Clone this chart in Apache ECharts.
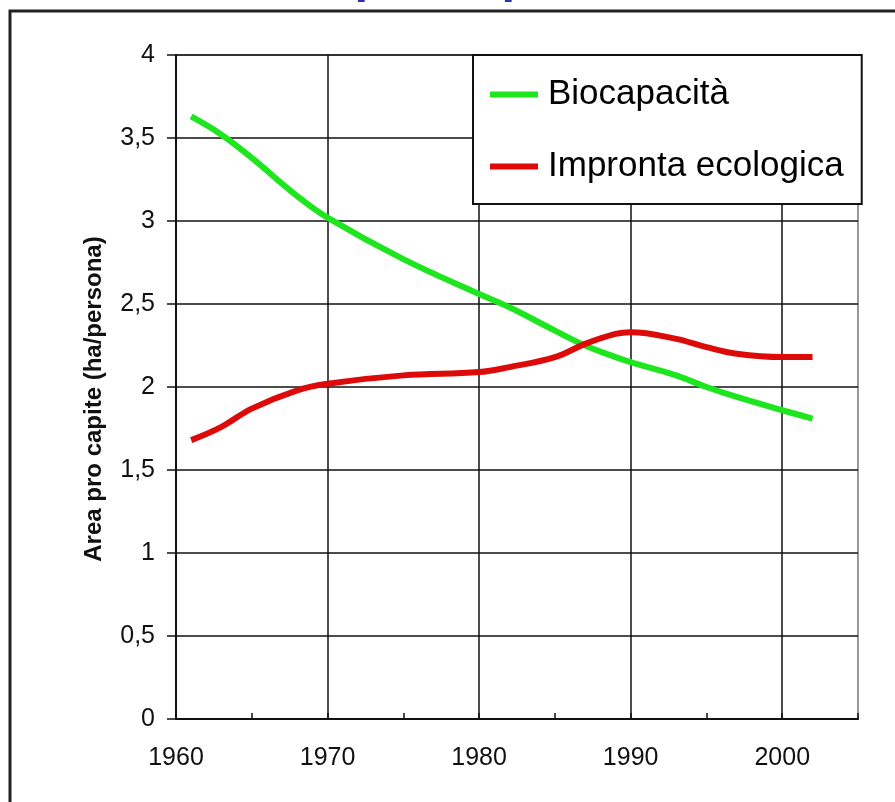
<html>
<head>
	<meta charset="utf-8">
	<title>Biocapacità e impronta ecologica</title>
	<style>
		html, body { margin: 0; padding: 0; background: #fff; }
	</style>
</head>
<body>
<div id="container" style="width:895px;height:802px"></div>
<script type="text/javascript" src="https://cdn.jsdelivr.net/npm/echarts@6/dist/echarts.min.js"></script>
<script type="text/javascript">
    // anni
    var years = [1961, 1963, 1965, 1968, 1970, 1975, 1980, 1982, 1985, 1987, 1989, 1990, 1993, 1995, 1997, 2000, 2002];
    // ha/persona
    var biocapacita = [3.63, 3.52, 3.38, 3.15, 3.02, 2.77, 2.56, 2.48, 2.34, 2.25, 2.18, 2.15, 2.07, 2.00, 1.94, 1.86, 1.81];
    var impronta = [1.68, 1.76, 1.87, 1.98, 2.02, 2.07, 2.09, 2.12, 2.18, 2.26, 2.32, 2.33, 2.29, 2.24, 2.20, 2.18, 2.18];
    var seriesNames = ['Biocapacità', 'Impronta ecologica'];
    var yTitle = 'Area pro capite (ha/persona)';
    var pageTitle = 'Area pro capite';

    function pairs(vals) {
        var out = [];
        for (var i = 0; i < years.length; i++) {
            out.push([years[i], vals[i]]);
        }
        return out;
    }

    var tickFont = "'Liberation Sans', Arial, sans-serif";

    var dom = document.getElementById("container");
    var myChart = echarts.init(dom, null, {renderer: 'canvas'});
    var option = {
        backgroundColor: '#fff',
        animation: false,
        graphic: [
            {
                type: 'text',
                left: 232,
                top: -46,
                style: {
                    text: pageTitle,
                    fill: '#3030a8',
                    font: "bold 49px 'Liberation Sans', Arial, sans-serif"
                }
            },
            {
                type: 'polyline',
                shape: {points: [[10, 802], [10, 11], [895, 11]]},
                style: {stroke: '#222', lineWidth: 3, fill: null}
            }
        ],
        grid: {
            left: 176,
            right: 37,
            top: 55,
            bottom: 83,
            show: true,
            borderColor: '#999',
            borderWidth: 2
        },
        legend: {
            orient: 'vertical',
            left: 473,
            top: 55,
            data: seriesNames,
            icon: 'rect',
            itemWidth: 48,
            itemHeight: 6,
            itemGap: 37,
            padding: [22, 18, 20, 17],
            backgroundColor: '#fff',
            borderColor: '#111',
            borderWidth: 2,
            textStyle: {
                fontFamily: "'Liberation Sans', Arial, sans-serif",
                fontSize: 35,
                color: '#000',
                padding: [0, 0, 0, 5]
            }
        },
        xAxis: [
            {
                type: 'value',
                min: 1960,
                max: 2005,
                interval: 10,
                axisLine: {onZero: false, lineStyle: {color: '#111', width: 2}},
                axisTick: {show: false},
                splitLine: {show: true, showMaxLine: false, lineStyle: {color: '#111', width: 1.5}},
                axisLabel: {
                    margin: 27,
                    color: '#111',
                    fontFamily: tickFont,
                    fontSize: 25,
                    showMaxLabel: false,
                    formatter: function (v) { return v % 10 === 0 ? String(v) : ''; }
                }
            },
            {
                type: 'value',
                position: 'bottom',
                min: 1960,
                max: 2005,
                interval: 5,
                axisLine: {show: false, onZero: false},
                axisTick: {show: true, inside: true, length: 6, lineStyle: {color: '#111', width: 1.5}},
                axisLabel: {show: false},
                splitLine: {show: false}
            }
        ],
        yAxis: {
            type: 'value',
            min: 0,
            max: 4,
            interval: 0.5,
            name: yTitle,
            nameLocation: 'middle',
            nameGap: 70,
            nameTextStyle: {
                fontFamily: "'Liberation Sans', Arial, sans-serif",
                fontWeight: 'bold',
                fontSize: 24,
                color: '#111',
                padding: [0, 24, 0, 0]
            },
            axisLine: {show: true, lineStyle: {color: '#111', width: 2}},
            axisTick: {show: true, length: 9, lineStyle: {color: '#111', width: 1.5}},
            splitLine: {show: true, lineStyle: {color: '#111', width: 1.5}},
            axisLabel: {
                margin: 21,
                color: '#111',
                fontFamily: tickFont,
                fontSize: 25,
                formatter: function (v) { return String(v).replace('.', ','); }
            }
        },
        series: [
            {
                name: seriesNames[0],
                type: 'line',
                smooth: 0.4,
                symbol: 'none',
                data: pairs(biocapacita),
                lineStyle: {color: '#1ee61e', width: 6},
                itemStyle: {color: '#1ee61e'}
            },
            {
                name: seriesNames[1],
                type: 'line',
                smooth: 0.4,
                symbol: 'none',
                data: pairs(impronta),
                lineStyle: {color: '#dd0a0a', width: 6},
                itemStyle: {color: '#dd0a0a'}
            }
        ]
    };

    if (option && typeof option === "object") {
        myChart.setOption(option, true);
    }
</script>
</body>
</html>
